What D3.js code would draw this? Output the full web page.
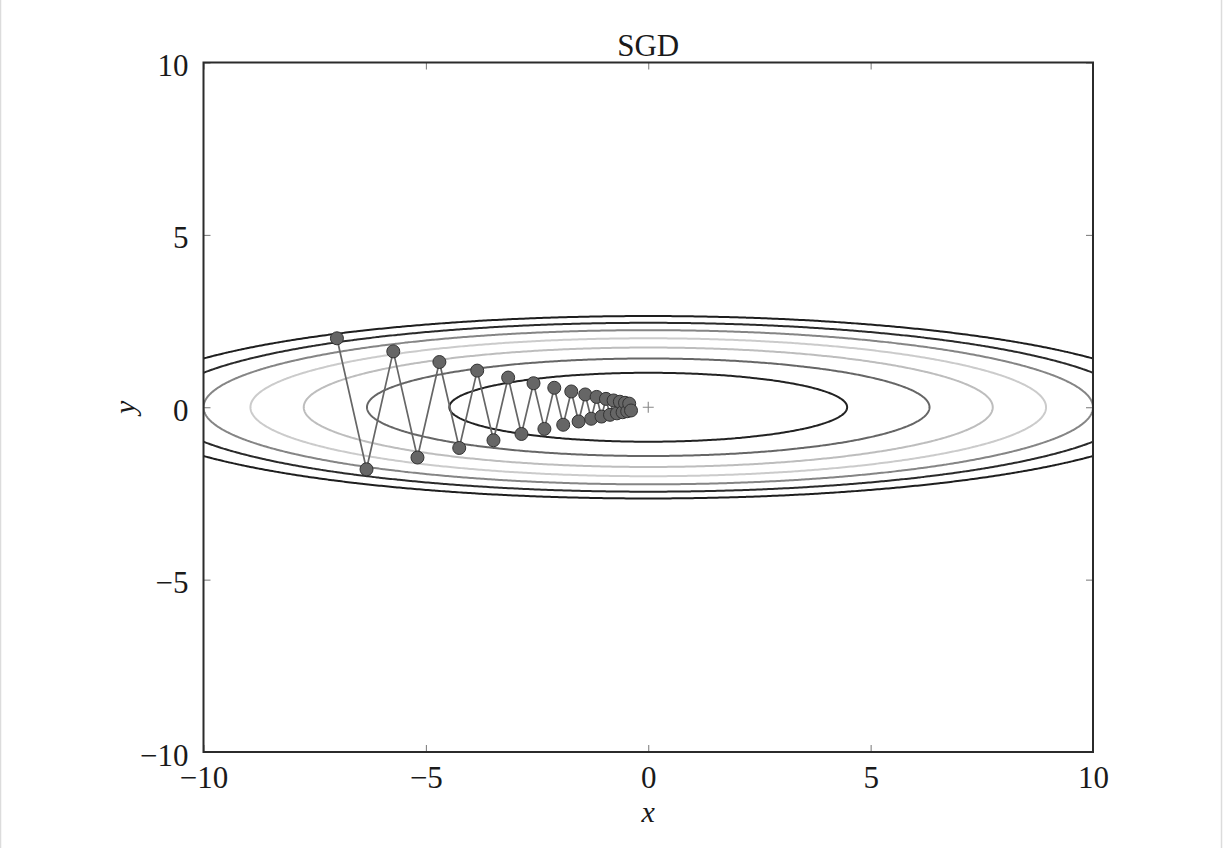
<!DOCTYPE html>
<html>
<head>
<meta charset="utf-8">
<script src="https://cdn.jsdelivr.net/npm/d3@7/dist/d3.min.js"></script>
<style>
  html, body { margin: 0; padding: 0; background: #fff; }
  svg { display: block; }
  text { font-family: "Liberation Serif", "DejaVu Serif", serif; fill: #1a1a1a; }
</style>
</head>
<body>
<svg id="chart" width="1224" height="848"></svg>
<script>
// ---- data ----
const title = "SGD";
const xTicks = [-10, -5, 0, 5, 10];
const yTicks = [-10, -5, 0, 5, 10];
// SGD optimisation path (x, y)
const pathX = [-7.000, -6.335, -5.733, -5.189, -4.696, -4.250, -3.846, -3.480, -3.150, -2.851,
               -2.580, -2.335, -2.113, -1.912, -1.731, -1.566, -1.417, -1.283, -1.161, -1.051,
               -0.951, -0.860, -0.779, -0.705, -0.638, -0.577, -0.522, -0.473, -0.428, -0.387];
const pathY = [ 2.000, -1.800,  1.620, -1.458,  1.312, -1.181,  1.063, -0.957,  0.861, -0.775,
                0.697, -0.628,  0.565, -0.508,  0.458, -0.412,  0.371, -0.334,  0.300, -0.270,
                0.243, -0.219,  0.197, -0.177,  0.160, -0.144,  0.129, -0.116,  0.105, -0.094];
// contour levels of f(x, y) = x^2/20 + y^2 and their stroke colours
const levels = [1, 2, 3, 4, 5, 6, 7];
const levelColors = ["#222222", "#666666", "#bdbdbd", "#cbcbcb", "#858585", "#2a2a2a", "#1e1e1e"];
const minimum = [0, 0];

// ---- layout ----
const svg = d3.select("#chart");
const pL = 203.5, pR = 1093, pT = 62.5, pB = 752;
const x = d3.scaleLinear().domain([-10, 10]).range([pL, pR]);
const y = d3.scaleLinear().domain([-10, 10]).range([pB, pT]);

// page border
svg.append("rect").attr("x", 0.5).attr("y", -2).attr("width", 1221).attr("height", 852)
  .attr("fill", "none").attr("stroke", "#dcdcdc").attr("stroke-width", 1.5);

svg.append("defs").append("clipPath").attr("id", "plotclip")
  .append("rect").attr("x", pL).attr("y", pT).attr("width", pR - pL).attr("height", pB - pT);

// ---- contours (grid extends beyond the plot so polygon edges stay outside) ----
const gx0 = -13, gx1 = 13, gy0 = -11, gy1 = 11;
const nx = 521, ny = 1101;
const dx = (gx1 - gx0) / (nx - 1), dy = (gy1 - gy0) / (ny - 1);
const values = new Float64Array(nx * ny);
for (let j = 0; j < ny; j++) {
  const yy = gy0 + j * dy;
  for (let i = 0; i < nx; i++) {
    const xx = gx0 + i * dx;
    values[j * nx + i] = xx * xx / 20 + yy * yy;
  }
}
const contourGen = d3.contours().size([nx, ny]).thresholds(levels);
const contours = contourGen(values);
const proj = d3.geoTransform({
  point: function(px, py) {
    this.stream.point(x(gx0 + (px - 0.5) * dx), y(gy0 + (py - 0.5) * dy));
  }
});
const geoPath = d3.geoPath(proj);
const cg = svg.append("g").attr("clip-path", "url(#plotclip)");
cg.selectAll("path.contour").data(contours).join("path")
  .attr("class", "contour")
  .attr("d", geoPath)
  .attr("fill", "none")
  .attr("stroke", (d, i) => levelColors[i])
  .attr("stroke-width", 2);

// ---- SGD path ----
const pts = pathX.map((v, i) => [v, pathY[i]]);
const pg = svg.append("g").attr("clip-path", "url(#plotclip)");
pg.append("path").datum(pts)
  .attr("d", d3.line().x(d => x(d[0])).y(d => y(d[1])))
  .attr("fill", "none").attr("stroke", "#666666").attr("stroke-width", 1.7);
pg.selectAll("circle").data(pts).join("circle")
  .attr("cx", d => x(d[0])).attr("cy", d => y(d[1])).attr("r", 6.5)
  .attr("fill", "#666666").attr("stroke", "#333333").attr("stroke-width", 1);

// '+' marker at minimum
const mx = x(minimum[0]), my = y(minimum[1]);
pg.append("path")
  .attr("d", `M${mx - 5.5},${my}H${mx + 5.5}M${mx},${my - 5.5}V${my + 5.5}`)
  .attr("stroke", "#888").attr("stroke-width", 1.1).attr("fill", "none");

// ---- axes (ticks inward on all four sides) ----
const fmt = d => (d < 0 ? "\u2212" + Math.abs(d) : String(d));
const tickLen = 7;
const axB = svg.append("g").attr("transform", `translate(0,${pB})`)
  .call(d3.axisBottom(x).tickValues(xTicks).tickSizeInner(-tickLen).tickSizeOuter(0).tickFormat(fmt).tickPadding(16));
const axT = svg.append("g").attr("transform", `translate(0,${pT})`)
  .call(d3.axisTop(x).tickValues(xTicks).tickSizeInner(-tickLen).tickSizeOuter(0).tickFormat(""));
const axL = svg.append("g").attr("transform", `translate(${pL},0)`)
  .call(d3.axisLeft(y).tickValues(yTicks).tickSizeInner(-tickLen).tickSizeOuter(0).tickFormat(fmt).tickPadding(15));
const axR = svg.append("g").attr("transform", `translate(${pR},0)`)
  .call(d3.axisRight(y).tickValues(yTicks).tickSizeInner(-tickLen).tickSizeOuter(0).tickFormat(""));
[axB, axT, axL, axR].forEach(a => {
  a.select(".domain").remove();
  a.selectAll(".tick line").attr("stroke", "#777").attr("stroke-width", 1);
});
axB.selectAll(".tick text").attr("font-size", 31).attr("fill", "#1a1a1a")
  .attr("font-family", "Liberation Serif, serif").attr("dy", "0.66em");
axL.selectAll(".tick text").attr("font-size", 31).attr("fill", "#1a1a1a")
  .attr("font-family", "Liberation Serif, serif").attr("dy", "0.42em");

// frame
svg.append("rect").attr("x", pL).attr("y", pT).attr("width", pR - pL).attr("height", pB - pT)
  .attr("fill", "none").attr("stroke", "#2b2b2b").attr("stroke-width", 2);

// ---- labels ----
svg.append("text").attr("x", (pL + pR) / 2).attr("y", 56).attr("text-anchor", "middle")
  .attr("font-size", 31).text(title);
svg.append("text").attr("x", (pL + pR) / 2).attr("y", 822).attr("text-anchor", "middle")
  .attr("font-size", 30).attr("font-style", "italic").text("x");
svg.append("text").attr("transform", `translate(135,${(pT + pB) / 2}) rotate(-90)`)
  .attr("text-anchor", "middle").attr("font-size", 30).attr("font-style", "italic").text("y");
</script>
</body>
</html>
